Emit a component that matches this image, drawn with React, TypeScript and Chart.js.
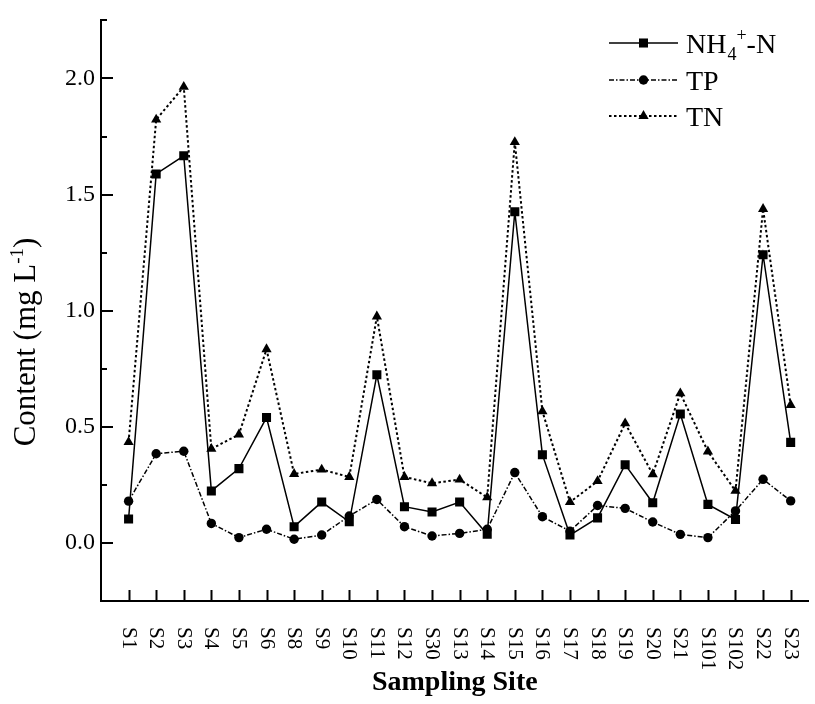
import { useEffect, useRef } from 'react';
import { Chart, registerables } from 'chart.js';

Chart.register(...registerables);

const categories = ['S1', 'S2', 'S3', 'S4', 'S5', 'S6', 'S8', 'S9', 'S10', 'S11', 'S12', 'S30', 'S13', 'S14', 'S15', 'S16', 'S17', 'S18', 'S19', 'S20', 'S21', 'S101', 'S102', 'S22', 'S23'];
const nh4Values = [0.103, 1.589, 1.667, 0.224, 0.320, 0.540, 0.070, 0.176, 0.091, 0.724, 0.156, 0.133, 0.176, 0.037, 1.426, 0.380, 0.034, 0.108, 0.337, 0.173, 0.555, 0.166, 0.101, 1.241, 0.433];
const tpValues = [0.180, 0.384, 0.395, 0.084, 0.023, 0.059, 0.016, 0.034, 0.116, 0.187, 0.070, 0.030, 0.041, 0.059, 0.303, 0.113, 0.051, 0.161, 0.149, 0.090, 0.037, 0.023, 0.138, 0.274, 0.181];
const tnValues = [0.434, 1.823, 1.964, 0.405, 0.467, 0.834, 0.297, 0.316, 0.284, 0.975, 0.284, 0.257, 0.273, 0.196, 1.726, 0.567, 0.176, 0.266, 0.515, 0.296, 0.644, 0.394, 0.224, 1.438, 0.594];
const yMin = -0.25;
const yMax = 2.25;
const yStep = 0.25;
const xTitle = 'Sampling Site';
const yTitleMain = 'Content (mg L';
const yTitleSup = '-1';
const yTitleEnd = ')';

const FONT = '"Liberation Serif", "Times New Roman", serif';

const isMajor = (v: number) => Math.abs(v * 2 - Math.round(v * 2)) < 1e-6;

function drawMarker(ctx: CanvasRenderingContext2D, style: string, x: number, y: number, r: number) {
  ctx.beginPath();
  if (style === 'rect') {
    const s = r * Math.SQRT1_2;
    ctx.rect(x - s, y - s, 2 * s, 2 * s);
  } else if (style === 'circle') {
    ctx.arc(x, y, r, 0, Math.PI * 2);
  } else {
    let a = 0;
    ctx.moveTo(x + Math.sin(a) * r, y - Math.cos(a) * r);
    a += (2 * Math.PI) / 3;
    ctx.lineTo(x + Math.sin(a) * r, y - Math.cos(a) * r);
    a += (2 * Math.PI) / 3;
    ctx.lineTo(x + Math.sin(a) * r, y - Math.cos(a) * r);
    ctx.closePath();
  }
  ctx.fill();
}

const overlay = {
  id: 'overlay',
  afterDraw(chart: any) {
    const ctx: CanvasRenderingContext2D = chart.ctx;
    const xs = chart.scales.x;
    const ys = chart.scales.y;
    const { left, bottom, right } = chart.chartArea;
    ctx.save();
    ctx.strokeStyle = '#000';
    ctx.fillStyle = '#000';
    ctx.lineWidth = 2;
    ctx.setLineDash([]);
    // y ticks (inward)
    ys.ticks.forEach((t: any) => {
      const py = Math.round(ys.getPixelForValue(t.value));
      const len = isMajor(t.value) ? 12 : 6;
      ctx.beginPath();
      ctx.moveTo(left, py);
      ctx.lineTo(left + len, py);
      ctx.stroke();
    });
    // x ticks (inward) and rotated labels
    ctx.font = `21px ${FONT}`;
    xs.ticks.forEach((t: any) => {
      const px = Math.round(xs.getPixelForValue(t.value)) + 0.5;
      ctx.beginPath();
      ctx.moveTo(px, bottom);
      ctx.lineTo(px, bottom - 11);
      ctx.stroke();
      const label = categories[t.value];
      if (label !== undefined) {
        ctx.save();
        ctx.translate(px, bottom + 26);
        ctx.rotate(Math.PI / 2);
        ctx.textAlign = 'left';
        ctx.textBaseline = 'middle';
        ctx.fillText(label, 0, 1);
        ctx.restore();
      }
    });
    // x title
    ctx.font = `bold 28px ${FONT}`;
    ctx.textAlign = 'center';
    ctx.textBaseline = 'middle';
    ctx.fillText(xTitle, (left + right) / 2, 683);
    // y title
    ctx.save();
    ctx.translate(27, 342);
    ctx.rotate(-Math.PI / 2);
    ctx.textAlign = 'left';
    ctx.textBaseline = 'alphabetic';
    const mainFont = `31px ${FONT}`;
    const supFont = `19px ${FONT}`;
    ctx.font = mainFont;
    const w1 = ctx.measureText(yTitleMain).width;
    const w3 = ctx.measureText(yTitleEnd).width;
    ctx.font = supFont;
    const w2 = ctx.measureText(yTitleSup).width;
    const total = w1 + w2 + w3;
    let cx = -total / 2;
    const base = 8;
    ctx.font = mainFont;
    ctx.fillText(yTitleMain, cx, base);
    cx += w1;
    ctx.font = supFont;
    ctx.fillText(yTitleSup, cx, base - 12);
    cx += w2;
    ctx.font = mainFont;
    ctx.fillText(yTitleEnd, cx, base);
    ctx.restore();

    // legend
    const rows = [43, 80, 116];
    chart.data.datasets.forEach((ds: any, i: number) => {
      const y = rows[i];
      ctx.save();
      ctx.lineWidth = ds.borderWidth;
      ctx.setLineDash(ds.borderDash || []);
      ctx.beginPath();
      ctx.moveTo(609, y);
      ctx.lineTo(678, y);
      ctx.stroke();
      ctx.setLineDash([]);
      drawMarker(ctx, ds.pointStyle, 643.5, y, ds.pointRadius);
      ctx.restore();
      ctx.textAlign = 'left';
      ctx.textBaseline = 'alphabetic';
      const tb = y + 10;
      let tx = 686;
      if (i === 0) {
        ctx.font = `28px ${FONT}`;
        ctx.fillText('NH', tx, tb);
        tx += ctx.measureText('NH').width + 1;
        ctx.font = `18px ${FONT}`;
        ctx.fillText('4', tx, tb + 7);
        tx += ctx.measureText('4').width;
        ctx.fillText('+', tx, tb - 12);
        tx += ctx.measureText('+').width;
        ctx.font = `28px ${FONT}`;
        ctx.fillText('-N', tx, tb);
      } else {
        ctx.font = `28px ${FONT}`;
        ctx.fillText(ds.label, tx, tb);
      }
    });
    ctx.restore();
  },
};

export default function App() {
  const ref = useRef<HTMLCanvasElement | null>(null);
  useEffect(() => {
    if (!ref.current) return;
    const toPoints = (arr: number[]) => arr.map((v, i) => ({ x: i, y: v }));
    const chart = new Chart(ref.current, {
      type: 'line',
      data: {
        datasets: [
          {
            label: 'NH4+-N',
            data: toPoints(nh4Values),
            borderColor: '#000',
            backgroundColor: '#000',
            borderWidth: 1.5,
            pointStyle: 'rect',
            pointRadius: 6.4,
            pointBorderWidth: 0,
            pointBackgroundColor: '#000',
            tension: 0,
          },
          {
            label: 'TP',
            data: toPoints(tpValues),
            borderColor: '#000',
            backgroundColor: '#000',
            borderWidth: 1.5,
            borderDash: [5, 2, 1.5, 2],
            pointStyle: 'circle',
            pointRadius: 4.7,
            pointBorderWidth: 0,
            pointBackgroundColor: '#000',
            tension: 0,
          },
          {
            label: 'TN',
            data: toPoints(tnValues),
            borderColor: '#000',
            backgroundColor: '#000',
            borderWidth: 2,
            borderDash: [2.5, 2.5],
            pointStyle: 'triangle',
            pointRadius: 5.9,
            pointBorderWidth: 0,
            pointBackgroundColor: '#000',
            tension: 0,
          },
        ],
      },
      options: {
        responsive: false,
        animation: false,
        devicePixelRatio: 1,
        layout: { padding: { top: 18, left: 0, right: 0, bottom: 0 } },
        plugins: { legend: { display: false }, tooltip: { enabled: false } },
        scales: {
          x: {
            type: 'linear',
            min: -1,
            max: 24.65,
            afterBuildTicks: (s: any) => {
              s.ticks = categories.map((_, i) => ({ value: i }));
            },
            afterFit: (s: any) => {
              s.height = 103;
            },
            ticks: { display: false },
            grid: { display: true, drawOnChartArea: false, drawTicks: false },
            border: { display: true, color: '#000', width: 2 },
          },
          y: {
            type: 'linear',
            min: yMin,
            max: yMax,
            afterFit: (s: any) => {
              s.width = 101;
            },
            ticks: {
              stepSize: yStep,
              padding: 6,
              color: '#000',
              font: { family: FONT, size: 24 },
              callback: (v: any) => (isMajor(Number(v)) ? Number(v).toFixed(1) : ''),
            },
            grid: { display: true, drawOnChartArea: false, drawTicks: false },
            border: { display: true, color: '#000', width: 2 },
          },
        },
      },
      plugins: [overlay],
    });
    return () => chart.destroy();
  }, []);
  return (
    <div style={{ position: 'fixed', left: 0, top: 0, width: 815, height: 704, background: '#fff' }}>
      <canvas ref={ref} width={815} height={704} style={{ display: 'block' }} />
    </div>
  );
}
